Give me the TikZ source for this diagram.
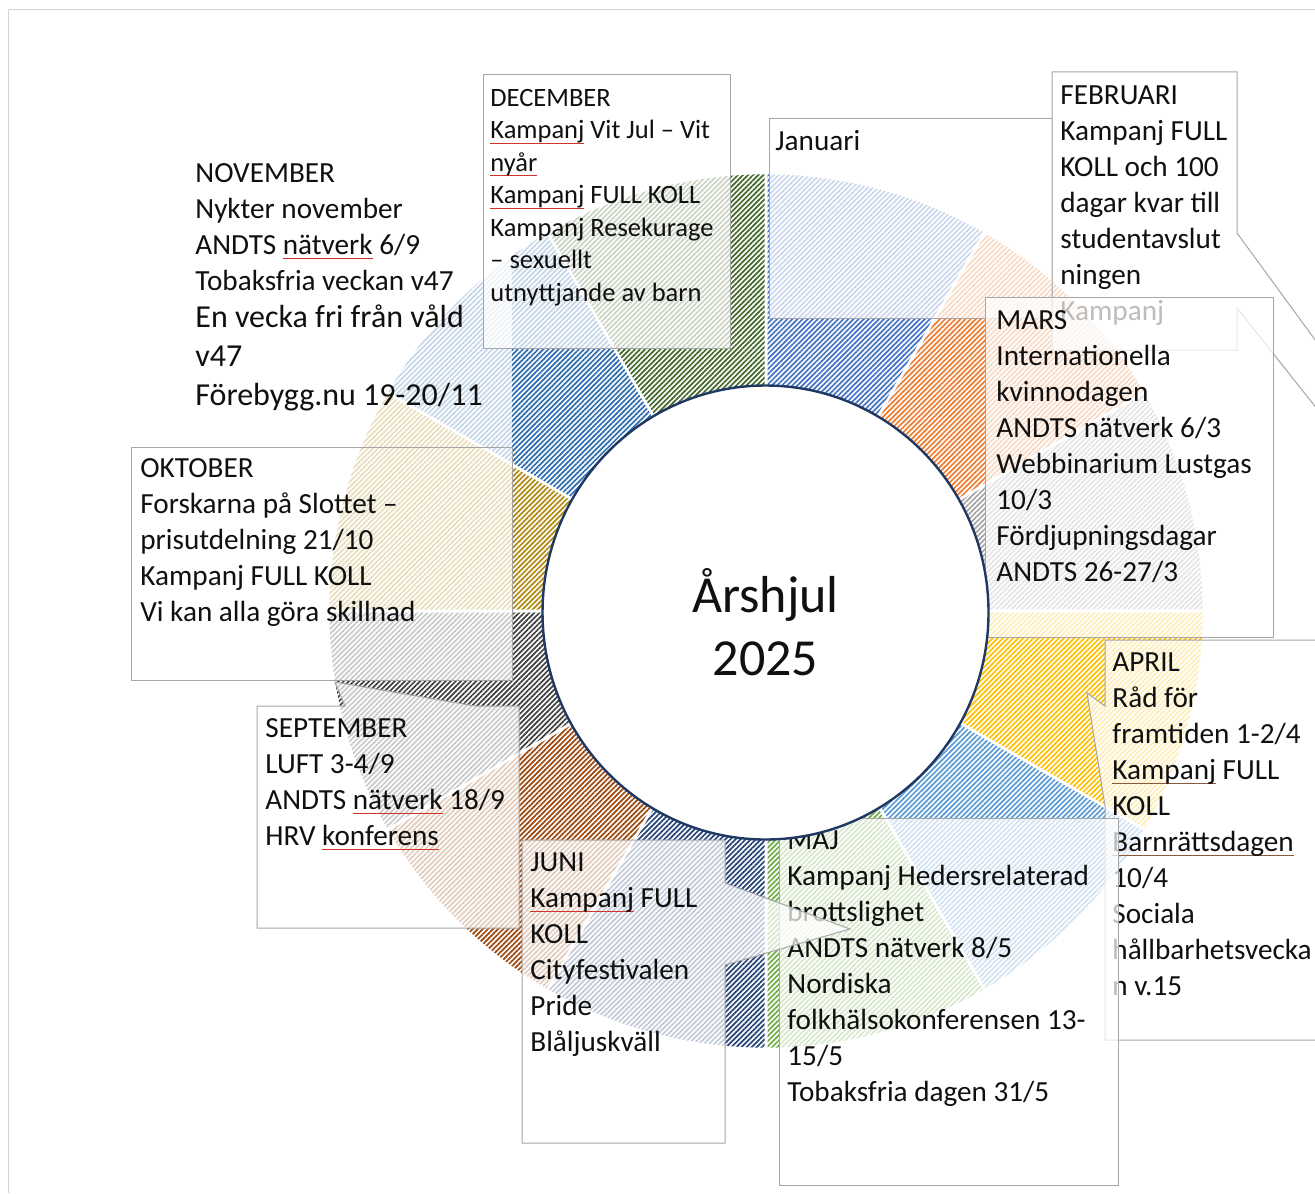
\documentclass[tikz,border=0pt]{standalone}
\usepackage{fontspec}
\setmainfont{Carlito}
\usetikzlibrary{patterns.meta,shapes.geometric}
\definecolor{mJan}{HTML}{4472C4}
\definecolor{mFeb}{HTML}{ED7D31}
\definecolor{mMar}{HTML}{A5A5A5}
\definecolor{mApr}{HTML}{FFC000}
\definecolor{mMay}{HTML}{5B9BD5}
\definecolor{mJun}{HTML}{70AD47}
\definecolor{mJul}{HTML}{264478}
\definecolor{mAug}{HTML}{9E480E}
\definecolor{mSep}{HTML}{404040}
\definecolor{mOct}{HTML}{B08A10}
\definecolor{mNov}{HTML}{2E6DB0}
\definecolor{mDec}{HTML}{43682B}
\definecolor{spellred}{HTML}{D0342C}
\definecolor{ulbrown}{HTML}{8A5A3C}
\definecolor{navyring}{HTML}{203864}
\definecolor{inkc}{HTML}{101010}
\newcommand\redul[2][spellred]{\setbox0\hbox{#2}\leavevmode\rlap{\textcolor{#1}{\rule[-2.4pt]{\wd0}{0.6pt}}}#2}
\begin{document}
\begin{tikzpicture}[x=0.5pt,y=-0.5pt,
  box/.style={draw=gray!70, line width=0.5pt, fill=white, fill opacity=0.72},
  ghostbox/.style={fill=white, fill opacity=0.72},
  txt/.style={anchor=north west, inner sep=0pt, align=left, text=inkc, font=\fontsize{14.6}{18}\selectfont},
  smalltxt/.style={txt, font=\fontsize{13.25}{16.25}\selectfont},
  bigtxt/.style={txt, font=\fontsize{16}{19.5}\selectfont},
  seg/.style={draw=white, line width=1.3pt, pattern={Lines[angle=45,distance=1.8pt,line width=0.85pt]}}]
\useasboundingbox (0,0) rectangle (1315,1193);
\clip (0,0) rectangle (1315,1193);
\fill[white] (0,0) rectangle (1315,1193);
\draw[gray!35, line width=0.5pt] (8,1193) -- (8,10) -- (1315,10);
% ring
\foreach \c [count=\i from 0] in {mJan,mFeb,mMar,mApr,mMay,mJun,mJul,mAug,mSep,mOct,mNov,mDec} {
  \pgfmathsetmacro\aa{30*\i-90}
  \pgfmathsetmacro\ab{30*\i-60}
  \path[seg, pattern color=\c, shift={(766,611)}]
    (\aa:438) arc[start angle=\aa, end angle=\ab, radius=438]
    -- (\ab:215) arc[start angle=\ab, end angle=\aa, radius=215] -- cycle;
}
% November (no border)
\path[ghostbox] (187,148) rectangle (512,447);
\node[txt] (nov) at (195,156.8) {\strut NOVEMBER\\Nykter november\\ANDTS \redul{nätverk} 6/9\\Tobaksfria veckan v47};
\node[bigtxt] (nov2) at (195,299.7) {\strut En vecka fri från våld\\v47\\Förebygg.nu 19-20/11};
% December
\path[box] (483,75) rectangle (730,348);
\node[smalltxt] (dec) at (490,83.25) {\strut DECEMBER\\\redul{Kampanj} Vit Jul – Vit\\\redul{nyår}\\\redul{Kampanj} FULL KOLL\\Kampanj Resekurage\\– sexuellt\\utnyttjande av barn};
% Januari
\path[box] (769,118) rectangle (1052,318);
\node[txt] (jan) at (775,124.8) {\strut Januari};
% Februari with callout
\path[box] (1052,72) -- (1237,72) -- (1237,233) -- (1929,1180) -- (1237,308) -- (1237,350) -- (1052,350) -- cycle;
\node[txt] (feb) at (1060,78.8) {\strut FEBRUARI\\Kampanj FULL\\KOLL och 100\\dagar kvar till\\studentavslut\\ningen\\Kampanj};
% Mars
\path[box] (985,297) rectangle (1273,637);
\node[txt] (mar) at (996,303.8) {\strut MARS\\Internationella\\kvinnodagen\\ANDTS nätverk 6/3\\Webbinarium Lustgas\\10/3\\Fördjupningsdagar\\ANDTS 26-27/3};
% April with callout
\path[box] (1105,640) -- (1330,640) -- (1330,1040) -- (1105,1040) -- (1105,806) -- (1087,693) -- (1105,706) -- cycle;
\node[txt] (apr) at (1112,645.8) {\strut APRIL\\Råd för\\framtiden 1-2/4\\\redul[ulbrown]{Kampanj} FULL\\KOLL\\\redul[ulbrown]{Barnrättsdagen}\\10/4\\Sociala\\hållbarhetsvecka\\n v.15};
% Maj
\path[box] (779,818) rectangle (1118,1185);
\node[txt] (maj) at (787,823.8) {\strut MAJ\\Kampanj Hedersrelaterad\\brottslighet\\ANDTS nätverk 8/5\\Nordiska\\folkhälsokonferensen 13-\\15/5\\Tobaksfria dagen 31/5};
% Juni with callout
\path[box] (522,840) -- (725,840) -- (725,883) -- (850,929) -- (725,965) -- (725,1143) -- (522,1143) -- cycle;
\node[txt] (jun) at (530,845.8) {\strut JUNI\\\redul{Kampanj} FULL\\KOLL\\Cityfestivalen\\Pride\\Blåljuskväll};
% Oktober
\path[box] (131,447) rectangle (512,680);
\node[txt] (okt) at (140,451.8) {\strut OKTOBER\\Forskarna på Slottet –\\prisutdelning 21/10\\Kampanj FULL KOLL\\Vi kan alla göra skillnad};
% September with callout
\path[box] (257,706) -- (345,706) -- (335,682) -- (475,706) -- (519,706) -- (519,928) -- (257,928) -- cycle;
\node[txt] (sep) at (265,711.8) {\strut SEPTEMBER\\LUFT 3-4/9\\ANDTS \redul{nätverk} 18/9\\HRV \redul{konferens}};
% centre
\node[ellipse, draw=navyring, line width=1.2pt, fill=white, minimum width=223pt, minimum height=227pt, inner sep=0pt] (hub) at (765.5,612.5) {};
\node[anchor=north, inner sep=0pt, align=center, text=inkc, font=\fontsize{26}{31.5}\selectfont] (title) at (765.5,567.9) {\strut Årshjul\\2025};
\end{tikzpicture}
\end{document}
